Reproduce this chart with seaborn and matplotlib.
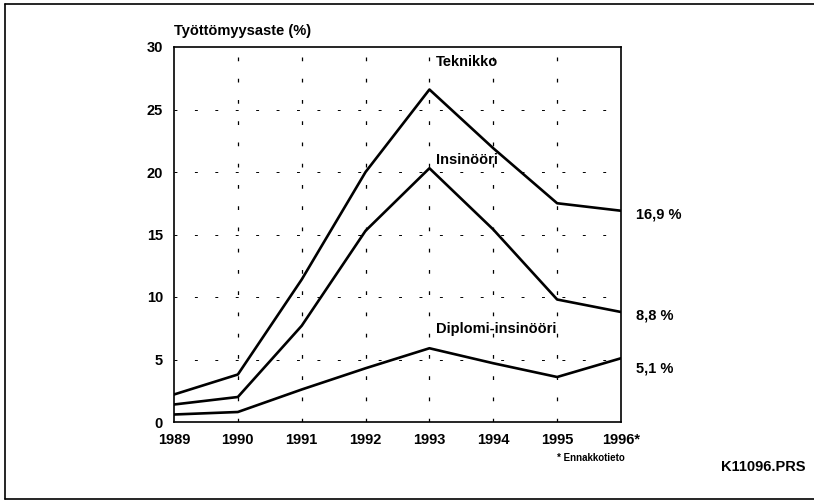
import pandas as pd
import numpy as np
import matplotlib.pyplot as plt
import seaborn as sns
from matplotlib.lines import Line2D

# data
years = [1989, 1990, 1991, 1992, 1993, 1994, 1995, 1996]
year_labels = ["1989", "1990", "1991", "1992", "1993", "1994", "1995", "1996*"]
teknikko = [2.2, 3.8, 11.4, 20.0, 26.6, 21.9, 17.5, 16.9]
insinoori = [1.4, 2.0, 7.7, 15.3, 20.3, 15.4, 9.8, 8.8]
diplomi = [0.6, 0.8, 2.6, 4.3, 5.9, 4.7, 3.6, 5.1]
end_labels = ["16,9 %", "8,8 %", "5,1 %"]

df = pd.DataFrame({
    "vuosi": years * 3,
    "aste": teknikko + insinoori + diplomi,
    "ryhma": ["Teknikko"] * 8 + ["Insinööri"] * 8 + ["Diplomi-insinööri"] * 8,
})

sns.set_style("white")
plt.rcParams['font.family'] = ['Liberation Sans', 'DejaVu Sans']
plt.rcParams['text.color'] = 'black'

fig = plt.figure(figsize=(8.14, 5.01), dpi=100)
ax = fig.add_axes([174/814, 79/501, 447/814, 375/501])

sns.lineplot(data=df, x="vuosi", y="aste", units="ryhma", estimator=None,
             color="black", linewidth=1.9, ax=ax)

ax.set_xlim(1989, 1996)
ax.set_ylim(0, 30)
ax.set_xticks(years)
ax.set_xticklabels(year_labels)
ax.set_yticks(range(0, 31, 5))
ax.set_xlabel("")
ax.set_ylabel("")
ax.tick_params(direction="in", length=4, width=1, colors="black", labelsize=10.5)
ax.tick_params(axis="x", pad=8)
ax.tick_params(axis="y", pad=8)
for lab in ax.get_xticklabels() + ax.get_yticklabels():
    lab.set_fontweight("bold")
for s in ax.spines.values():
    s.set_color("black")
    s.set_linewidth(1.2)

# sparse dashed grid
for yr in years[1:-1]:
    ax.axvline(yr, color="black", lw=0.9, ls=(0, (3, 14)), zorder=0)
for v in range(5, 30, 5):
    ax.axhline(v, color="black", lw=0.7, ls=(0, (3, 18)), zorder=0)

ax.text(0, 1.025, "Työttömyysaste (%)", transform=ax.transAxes, fontsize=10.5,
        fontweight="bold", ha="left", va="bottom")

ax.text(1993.1, 28.8, "Teknikko", fontsize=10.5, fontweight="bold", va="center")
ax.text(1993.1, 21.0, "Insinööri", fontsize=10.5, fontweight="bold", va="center")
ax.text(1993.1, 7.4, "Diplomi-insinööri", fontsize=10.5, fontweight="bold", va="center")

for yv, lab in zip([16.6, 8.5, 4.3], end_labels):
    ax.text(1996.23, yv, lab, fontsize=10.5, fontweight="bold", va="center", clip_on=False)

fig.text(557/814, 1 - 458/501, "* Ennakkotieto", fontsize=7, fontweight="bold", va="center")
fig.text(806/814, 1 - 467/501, "K11096.PRS", fontsize=10.5, fontweight="bold",
         ha="right", va="center")

# outer frame (left, top, bottom)
fig.add_artist(Line2D([5/814, 5/814], [2/501, 1 - 4/501], color="black", lw=1.2, transform=fig.transFigure))
fig.add_artist(Line2D([5/814, 1], [1 - 4/501, 1 - 4/501], color="black", lw=1.2, transform=fig.transFigure))
fig.add_artist(Line2D([5/814, 1], [2/501, 2/501], color="black", lw=1.2, transform=fig.transFigure))

fig.savefig("out.png", dpi=100)
